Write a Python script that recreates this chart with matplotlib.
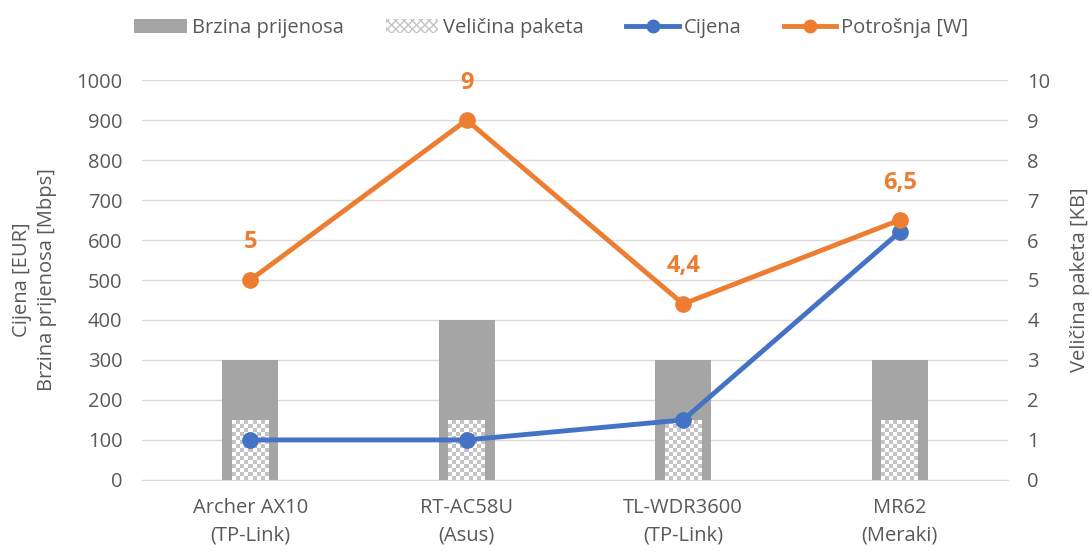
import matplotlib
matplotlib.use("Agg")
import matplotlib.pyplot as plt
import numpy as np
from matplotlib.patches import Patch
from matplotlib.lines import Line2D

categories = ["Archer AX10\n(TP-Link)", "RT-AC58U\n(Asus)", "TL-WDR3600\n(TP-Link)", "MR62\n(Meraki)"]
brzina = [300, 400, 300, 300]          # Mbps, left axis
velicina = [1.5, 1.5, 1.5, 1.5]        # KB, right axis
cijena = [100, 100, 150, 620]          # EUR, left axis
potrosnja = [5, 9, 4.4, 6.5]           # W, right axis
potrosnja_labels = ["5", "9", "4,4", "6,5"]

plt.rcParams['font.family'] = ['Open Sans', 'DejaVu Sans']
txt = '#595959'
grid = '#d9d9d9'
fs = 14.5

fig = plt.figure(figsize=(10.92, 5.6), dpi=100)
ax = fig.add_axes([0.130, 0.143, 0.793, 0.714])
ax2 = ax.twinx()

x = np.arange(len(categories))
bars = ax.bar(x, brzina, width=0.26, color='#a5a5a5', zorder=2)
ax.set_ylim(0, 1000)
ax.set_xlim(-0.5, 3.5)
ax2.set_ylim(0, 10)

vb = ax2.bar(x, velicina, width=0.17, color='white', zorder=3)
# checkerboard fill clipped to each small bar
n = 60
check = (np.indices((n, n)).sum(axis=0) % 2).astype(float)
cmap = matplotlib.colors.ListedColormap(['#ffffff', '#c4c4c4'])
for b in vb:
    bx, by = b.get_x(), b.get_y()
    w, h = b.get_width(), b.get_height()
    cell_w = w / 9.0
    cell_h = 0.1
    nx = int(np.ceil(w / cell_w))
    ny = int(np.ceil(h / cell_h))
    img = check[:ny, :nx]
    im = ax2.imshow(img, cmap=cmap, extent=(bx, bx + nx * cell_w, by, by + ny * cell_h),
                    origin='lower', aspect='auto', interpolation='nearest', zorder=4)
    im.set_clip_path(b)
ax2.set_xlim(-0.5, 3.5)
ax2.set_ylim(0, 10)

ax2.plot(x, [c / 100 for c in cijena], color='#4472c4', lw=3.5, marker='o', ms=11, zorder=5)
ax2.plot(x, potrosnja, color='#ed7d31', lw=3.5, marker='o', ms=11, zorder=6)
for xi, v, lab in zip(x, potrosnja, potrosnja_labels):
    ax2.annotate(lab, (xi, v), xytext=(0, 27), textcoords='offset points', ha='center',
                 va='center', color='#ed7d31', fontsize=17, fontweight='bold')

ax.set_yticks(np.arange(0, 1001, 100))
ax2.set_yticks(np.arange(0, 11, 1))
ax.yaxis.grid(True, color=grid, lw=1, zorder=0)
ax.set_axisbelow(True)
ax.set_xticks(x)
ax.set_xticklabels(categories, linespacing=1.5)
for a in (ax, ax2):
    for s in a.spines.values():
        s.set_visible(False)
    a.tick_params(length=0, colors=txt, labelsize=fs)
ax.tick_params(axis='y', pad=14)
ax2.tick_params(axis='y', pad=14)
ax.tick_params(axis='x', pad=13)
ax.spines['bottom'].set_visible(True)
ax.spines['bottom'].set_color(grid)

ax.set_ylabel("Cijena [EUR]\nBrzina prijenosa [Mbps]", color=txt, fontsize=fs, labelpad=14,
              linespacing=1.3)
ax2.set_ylabel("Veličina paketa [KB]", color=txt, fontsize=fs, labelpad=14)

handles = [Patch(facecolor='#a5a5a5'),
           Patch(facecolor='white', edgecolor='#c4c4c4', hatch='xxxx', lw=0),
           Line2D([], [], color='#4472c4', lw=3.5, marker='o', ms=9),
           Line2D([], [], color='#ed7d31', lw=3.5, marker='o', ms=9)]
labels = ["Brzina prijenosa", "Veličina paketa", "Cijena", "Potrošnja [W]"]
fig.legend(handles, labels, loc='center', bbox_to_anchor=(0.505, 0.95), ncol=4, frameon=False,
           fontsize=fs, labelcolor=txt, handlelength=2.6, columnspacing=2.1, handletextpad=0.25)

fig.savefig("out.png", dpi=100)
